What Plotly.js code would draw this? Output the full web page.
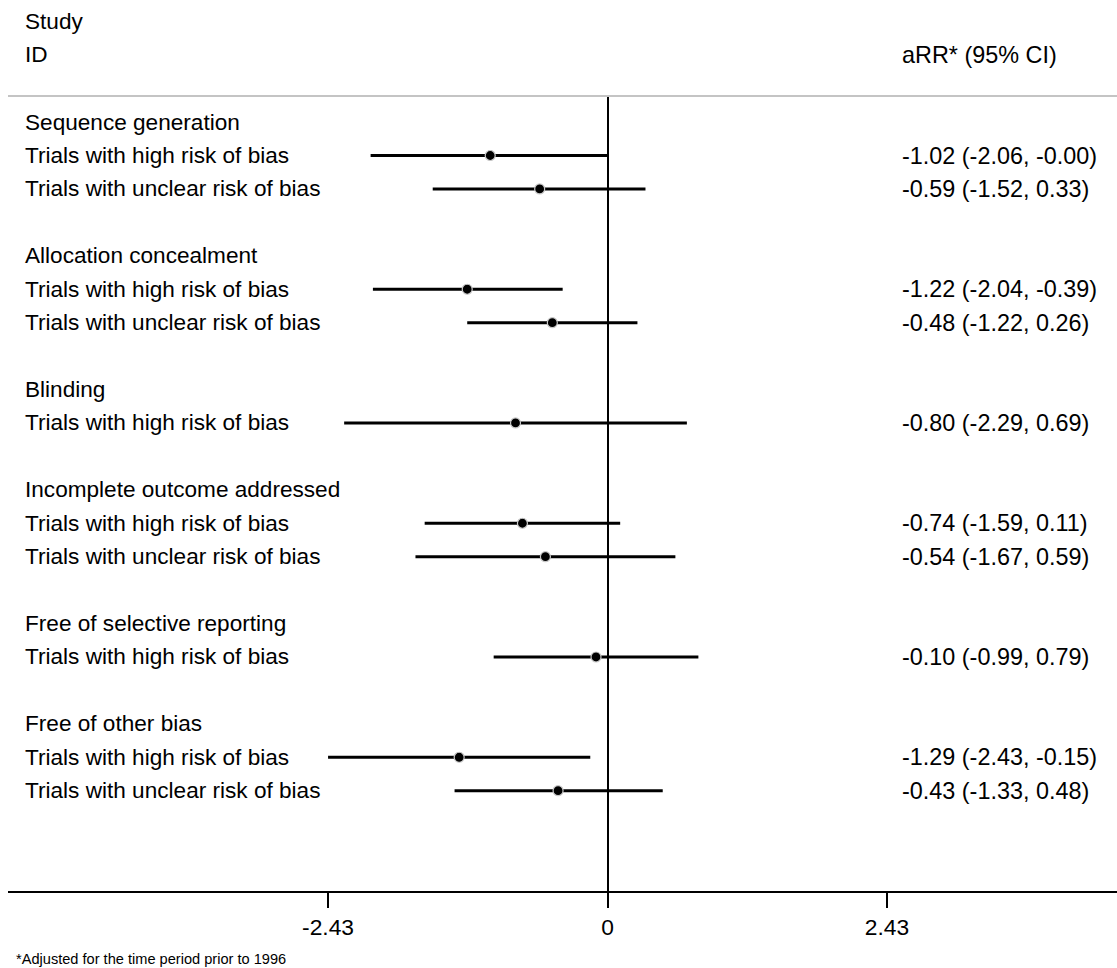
<!DOCTYPE html>
<html>
<head>
<meta charset="utf-8">
<script src="https://cdn.plot.ly/plotly-3.0.1.min.js"></script>
<style>
  html, body { margin: 0; padding: 0; background: #fff; }
  #chart { width: 1117px; height: 968px; }
</style>
</head>
<body>
<div id="chart"></div>
<script>
// Subgroup headings and the trial rows under each one
const groupHeadings = [
  "Sequence generation",
  "Allocation concealment",
  "Blinding",
  "Incomplete outcome addressed",
  "Free of selective reporting",
  "Free of other bias"
];
const groupRows = [
  ["Trials with high risk of bias", "Trials with unclear risk of bias"],
  ["Trials with high risk of bias", "Trials with unclear risk of bias"],
  ["Trials with high risk of bias"],
  ["Trials with high risk of bias", "Trials with unclear risk of bias"],
  ["Trials with high risk of bias"],
  ["Trials with high risk of bias", "Trials with unclear risk of bias"]
];

// Adjusted estimates with 95% confidence limits, one per trial row
const estimates = [-1.02, -0.59, -1.22, -0.48, -0.80, -0.74, -0.54, -0.10, -1.29, -0.43];
const lowerCI   = [-2.06, -1.52, -2.04, -1.22, -2.29, -1.59, -1.67, -0.99, -2.43, -1.33];
const upperCI   = [-0.00,  0.33, -0.39,  0.26,  0.69,  0.11,  0.59,  0.79, -0.15,  0.48];

// Axis ticks
const tickValues = [-2.43, 0, 2.43];
const tickLabels = ["-2.43", "0", "2.43"];

const FONT = "Liberation Sans, Arial, Helvetica, sans-serif";
const FS_LEFT = 22.6;
const FS_RIGHT = 23.4;

function fmt(v) {
  const s = Math.abs(v).toFixed(2);
  return (v < 0 || Object.is(v, -0)) ? "-" + s : s;
}

// Lay out rows: heading, its trials, then a blank spacer row
const annotations = [];
const ys = [];
let row = 0;
let k = 0;
const LEFT_X = 0.0135;
const RIGHT_X = 0.8045;
const leftFont = { family: FONT, size: FS_LEFT, color: "#000" };
const rightFont = { family: FONT, size: FS_RIGHT, color: "#000" };
groupHeadings.forEach((h, gi) => {
  annotations.push({ xref: "paper", yref: "y", x: LEFT_X, y: row, text: h,
    xanchor: "left", yanchor: "middle", showarrow: false, font: leftFont });
  row += 1;
  groupRows[gi].forEach(label => {
    annotations.push({ xref: "paper", yref: "y", x: LEFT_X, y: row, text: label,
      xanchor: "left", yanchor: "middle", showarrow: false, font: leftFont });
    annotations.push({ xref: "paper", yref: "y", x: RIGHT_X, y: row,
      text: fmt(estimates[k]) + " (" + fmt(lowerCI[k]) + ", " + fmt(upperCI[k]) + ")",
      xanchor: "left", yanchor: "middle", showarrow: false, font: rightFont });
    ys.push(row);
    row += 1;
    k += 1;
  });
  row += 1;
});

// Column headers above the plot
annotations.push({ xref: "paper", yref: "paper", x: LEFT_X, y: 1.0943, text: "Study",
  xanchor: "left", yanchor: "middle", showarrow: false, font: leftFont });
annotations.push({ xref: "paper", yref: "paper", x: LEFT_X, y: 1.0516, text: "ID",
  xanchor: "left", yanchor: "middle", showarrow: false, font: leftFont });
annotations.push({ xref: "paper", yref: "paper", x: RIGHT_X, y: 1.0516, text: "aRR* (95% CI)",
  xanchor: "left", yanchor: "middle", showarrow: false, font: rightFont });

// Footnote
annotations.push({ xref: "paper", yref: "paper", x: 0.005, y: -0.086,
  text: "*Adjusted for the time period prior to 1996",
  xanchor: "left", yanchor: "middle", showarrow: false,
  font: { family: FONT, size: 14.6, color: "#000" } });

const trace = {
  type: "scatter",
  mode: "markers",
  x: estimates,
  y: ys,
  marker: { size: 10, color: "#000", line: { color: "#c8c8c8", width: 1.2 } },
  error_x: {
    type: "data",
    symmetric: false,
    array: estimates.map((e, i) => upperCI[i] - e),
    arrayminus: estimates.map((e, i) => e - lowerCI[i]),
    width: 0,
    thickness: 3,
    color: "#000"
  },
  hoverinfo: "skip",
  cliponaxis: false
};

const layout = {
  width: 1117,
  height: 968,
  margin: { l: 8, r: 0, t: 96, b: 77 },
  paper_bgcolor: "#fff",
  plot_bgcolor: "#fff",
  showlegend: false,
  font: { family: FONT, size: FS_LEFT, color: "#000" },
  xaxis: {
    range: [-5.213, 4.430],
    showgrid: false,
    zeroline: true,
    zerolinecolor: "#000",
    zerolinewidth: 2,
    showline: true,
    linecolor: "#000",
    linewidth: 2,
    ticks: "outside",
    ticklen: 15,
    tickwidth: 2,
    tickcolor: "#000",
    tickvals: tickValues,
    ticktext: tickLabels,
    tickfont: { family: FONT, size: 22.8, color: "#000" },
    fixedrange: true
  },
  yaxis: {
    range: [23, -0.78],
    showgrid: false,
    zeroline: false,
    showline: false,
    showticklabels: false,
    ticks: "",
    fixedrange: true
  },
  shapes: [
    { type: "line", xref: "paper", yref: "paper", x0: 0, x1: 1, y0: 1, y1: 1,
      line: { color: "#c4c4c4", width: 2 } }
  ],
  annotations: annotations
};

Plotly.newPlot("chart", [trace], layout, { displayModeBar: false, staticPlot: true });
</script>
</body>
</html>
